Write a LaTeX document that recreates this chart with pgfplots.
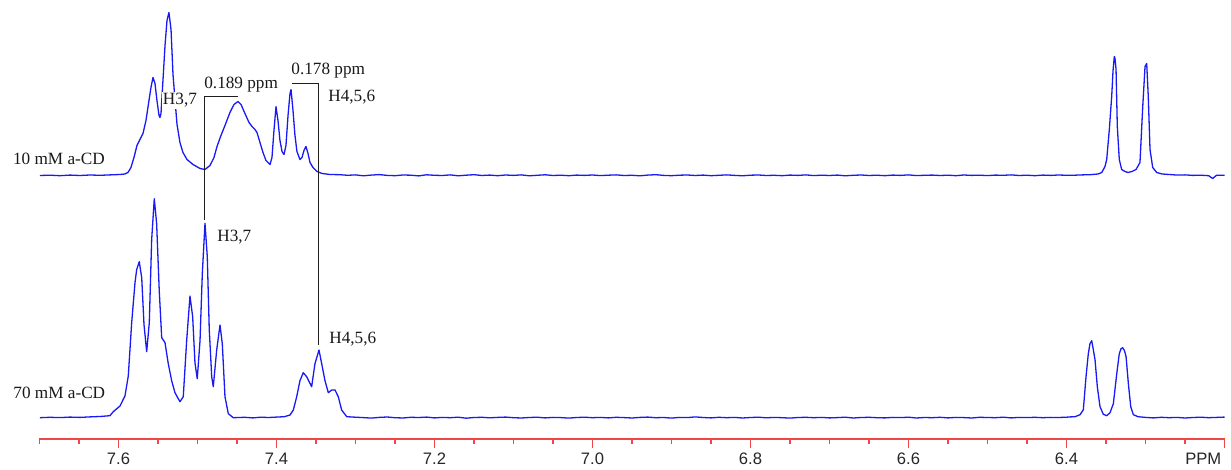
\documentclass[border=0pt]{standalone}
\usepackage{fontspec}
\setmainfont{Liberation Serif}
\setsansfont{Liberation Sans}
\usepackage{pgfplots}
\pgfplotsset{compat=1.18}
\usepackage{pgfplotstable}

\definecolor{specblue}{RGB}{25,25,245}
\definecolor{axred}{RGB}{240,70,70}
\definecolor{annot}{RGB}{30,30,30}

% 1H NMR, 10 mM a-CD (intensity above its own baseline)
\pgfplotstableread{
ppm I
7.6994 0
7.6867 0.3
7.6741 -0.2
7.6614 0.4
7.6487 0
7.6361 0.5
7.6234 0.2
7.6108 0.6
7.5981 1
7.5918 1.5
7.5880 3
7.5842 8
7.5804 18
7.5766 30
7.5728 36
7.5690 42
7.5652 55
7.5614 75
7.5589 88
7.5563 98
7.5538 92
7.5513 75
7.5487 60
7.5475 58
7.5462 62
7.5437 95
7.5411 130
7.5386 155
7.5361 163
7.5335 146
7.5310 101
7.5285 76
7.5259 51
7.5222 33
7.5184 23
7.5133 16
7.5057 11
7.4968 7
7.4905 6
7.4842 10
7.4791 18
7.4753 29
7.4703 40
7.4652 50
7.4589 63
7.4538 71
7.4487 74
7.4449 71
7.4399 62
7.4348 53
7.4310 49
7.4272 46
7.4247 43
7.4209 33
7.4171 23
7.4133 15
7.4082 11
7.4057 18
7.4032 45
7.4006 69
7.3981 55
7.3956 35
7.3930 24
7.3905 21
7.3880 30
7.3854 60
7.3829 82
7.3816 86
7.3791 65
7.3766 40
7.3741 24
7.3703 16
7.3677 18
7.3652 25
7.3627 29
7.3601 22
7.3576 13
7.3538 8
7.3487 4
7.3424 2
7.3323 1
7.32 0.8
7.31 0.2
7.30 0.6
7.29 -0.3
7.28 0.4
7.27 0.9
7.26 0.1
7.25 -0.2
7.24 0.5
7.23 0.3
7.22 -0.4
7.21 0.7
7.20 0.2
7.19 0
7.18 0.6
7.17 -0.3
7.16 0.3
7.15 0.8
7.14 0
7.13 0.4
7.12 -0.2
7.11 0.5
7.10 0.1
7.09 0.6
7.08 -0.3
7.07 0.2
7.06 0.7
7.05 0
7.04 0.3
7.03 -0.2
7.02 0.4
7.01 0.1
7.00 0.5
6.99 -0.1
6.98 0.3
6.97 0.6
6.96 0
6.95 0.2
6.94 -0.3
6.93 0.4
6.92 0.8
6.91 0.1
6.90 -0.2
6.89 0.3
6.88 0.5
6.87 0
6.86 0.4
6.85 -0.2
6.84 0.2
6.83 0.6
6.82 0.1
6.81 -0.3
6.80 0.3
6.79 0.5
6.78 0
6.77 0.2
6.76 -0.2
6.75 0.4
6.74 0.1
6.73 0.6
6.72 -0.1
6.71 0.3
6.70 0
6.69 0.4
6.68 -0.3
6.67 0.2
6.66 0.5
6.65 0
6.64 0.3
6.63 -0.2
6.62 0.4
6.61 0.1
6.60 0.6
6.59 -0.1
6.58 0.2
6.57 0.4
6.56 0
6.55 0.3
6.54 -0.2
6.53 0.5
6.52 0.1
6.51 0.3
6.50 -0.1
6.49 0.4
6.48 0.2
6.47 0.6
6.46 0
6.45 0.3
6.44 -0.2
6.43 0.4
6.42 0.1
6.41 0.5
6.40 0.2
6.39 0.3
6.38 0.6
6.37 0.8
6.36 1.5
6.3554 3
6.3513 9
6.3491 16
6.3458 46
6.3428 79
6.3411 105
6.3395 119
6.3386 117
6.3373 106
6.3357 49
6.3332 16
6.3302 6
6.3260 4
6.3222 3
6.3171 4
6.3120 6
6.3070 13
6.3035 69
6.3006 109
6.2985 112
6.2965 79
6.2943 26
6.2909 8
6.2858 3
6.2791 1.5
6.27 1
6.26 0.4
6.25 0.6
6.24 0.1
6.23 0.3
6.22 -0.2
6.215 -3
6.21 0.3
6.20 0.2
}\tenmM

% 1H NMR, 70 mM a-CD
\pgfplotstableread{
ppm I
7.6994 0
7.6867 0.4
7.6741 0.1
7.6614 0.6
7.6487 0.3
7.6361 0.8
7.6234 1.2
7.6108 2
7.6066 6
7.5981 11.7
7.5918 21.7
7.5876 41.7
7.5833 95
7.5791 135
7.5770 148
7.5737 156
7.5706 140
7.5677 93
7.5643 66
7.5610 95
7.5580 178
7.5547 219
7.5517 194
7.5484 127
7.5453 80
7.5411 75
7.5370 54
7.5327 37
7.5285 25
7.5222 16
7.5180 21
7.5137 77
7.5095 121.7
7.5061 101
7.5032 55
7.5003 39
7.4968 77
7.4939 144
7.4905 194.4
7.4876 161
7.4851 88
7.4820 41
7.4800 31
7.4757 67.7
7.4715 92.7
7.4686 74
7.4652 21
7.4610 4
7.4547 0
7.44 0.4
7.43 -0.2
7.42 0.5
7.41 0.2
7.40 0.6
7.39 1
7.3829 2.7
7.3787 7.7
7.3744 21
7.3703 37
7.3661 45
7.3618 41
7.3555 31
7.3513 54
7.3462 67.7
7.3428 54
7.3386 37
7.3344 25
7.3301 27.7
7.3259 27.7
7.3218 21
7.3175 7.7
7.3111 1
7.30 0.5
7.29 0.1
7.28 -0.4
7.27 0.3
7.26 0.7
7.25 0
7.24 -0.3
7.23 0.4
7.22 0.2
7.21 0.6
7.20 -0.2
7.19 0.3
7.18 0
7.17 0.5
7.16 -0.5
7.15 0.2
7.14 0.4
7.13 -0.1
7.12 0.3
7.11 0.6
7.10 0
7.09 -0.3
7.08 0.2
7.07 0.5
7.06 -0.2
7.05 0.3
7.04 0.1
7.03 -0.4
7.02 0.2
7.01 0.5
7.00 0
6.99 0.3
6.98 -0.2
6.97 0.4
6.96 0.1
6.95 -0.3
6.94 0.3
6.93 0.6
6.92 0
6.91 0.2
6.90 -0.4
6.89 0.3
6.88 0.1
6.87 0.8
6.86 0.2
6.85 -0.2
6.84 0.4
6.83 0
6.82 0.3
6.81 -0.3
6.80 0.2
6.79 0.5
6.78 -0.1
6.77 0.3
6.76 0
6.75 -0.4
6.74 0.2
6.73 0.4
6.72 0
6.71 0.3
6.70 -0.2
6.69 0.1
6.68 0.5
6.67 -0.3
6.66 0.2
6.65 0.4
6.64 0
6.63 -0.2
6.62 0.3
6.61 0.1
6.60 0.5
6.59 -0.3
6.58 0.2
6.57 0
6.56 0.4
6.55 -0.2
6.54 0.3
6.53 0.1
6.52 -0.3
6.51 0.4
6.50 0.2
6.49 0
6.48 0.5
6.47 -0.2
6.46 0.3
6.45 0.1
6.44 0.4
6.43 0
6.42 0.3
6.41 0.2
6.40 0.5
6.395 0.8
6.3892 1
6.3829 3
6.3787 8
6.3753 41
6.3724 64
6.3703 74
6.3681 77
6.3665 70
6.3639 58
6.3610 31
6.3576 11
6.3534 3.4
6.3491 2
6.3449 5
6.3407 14
6.3364 44
6.3332 64
6.3310 69
6.3289 70
6.3266 67
6.3246 61
6.3217 34
6.3187 11
6.3154 3
6.3095 1
6.30 0.3
6.29 -0.2
6.28 0.4
6.27 0
6.26 0.3
6.25 -0.3
6.24 0.2
6.23 0.5
6.22 0
6.21 0.3
6.20 0.6
}\seventymM

\begin{document}
\begin{tikzpicture}
\begin{axis}[
  scale only axis,
  width=592.5pt, height=219.5pt,
  x dir=reverse,
  xmin=6.2, xmax=7.7,
  ymin=0, ymax=439,
  clip=false,
  hide y axis,
  axis x line*=bottom,
  x axis line style={draw=axred, line width=0.75pt, -},
  xtick={6.2,6.4,6.6,6.8,7.0,7.2,7.4,7.6},
  xticklabels={\makebox[0pt][r]{PPM\kern1.6pt},6.4,6.6,6.8,7.0,7.2,7.4,7.6},
  minor xtick={6.25,6.3,6.35,6.45,6.5,6.55,6.65,6.7,6.75,6.85,6.9,6.95,7.05,7.1,7.15,7.25,7.3,7.35,7.45,7.5,7.55,7.65,7.7},
  tick align=outside,
  major tick length=4.5pt,
  minor tick length=2.5pt,
  every tick/.style={draw=axred, line width=0.6pt},
  /pgf/number format/assume math mode=true,
  xticklabel style={font=\sffamily\fontsize{8.3}{9}\selectfont, text=black!85, inner sep=0pt, anchor=north, yshift=-2.2pt},
]
\addplot[specblue, line width=0.65pt, line join=round, no markers]
  table[x=ppm, y expr=\thisrow{I}+263.5]{\tenmM};
\addplot[specblue, line width=0.65pt, line join=round, no markers]
  table[x=ppm, y expr=\thisrow{I}+21.3]{\seventymM};

% chemical shift brackets
\draw[annot, line width=0.5pt] (axis cs:7.4905,219) -- (axis cs:7.4905,342.3) -- (axis cs:7.4487,342.3);
\draw[annot, line width=0.5pt] (axis cs:7.3807,355.7) -- (axis cs:7.3462,355.7) -- (axis cs:7.3462,94);

\begin{scope}[every node/.style={inner sep=0pt, anchor=base west, font=\fontsize{8.6}{10}\selectfont, text=black!90}]
\node at (axis cs:7.7339,274) {10 mM a-CD};
\node at (axis cs:7.7335,40) {70 mM a-CD};
\node[fill=white, inner sep=0.6pt] at (axis cs:7.5457,334) {H3,7};
\node at (axis cs:7.3348,337) {H4,5,6};
\node at (axis cs:7.4918,350) {0.189 ppm};
\node at (axis cs:7.3816,364) {0.178 ppm};
\node at (axis cs:7.4753,197) {H3,7};
\node at (axis cs:7.3335,95) {H4,5,6};
\end{scope}

\coordinate (bbA) at (axis cs:7.75,-30);
\coordinate (bbB) at (axis cs:6.1918,439);
\end{axis}
\pgfresetboundingbox
\path[use as bounding box] (bbA) rectangle (bbB);
\end{tikzpicture}
\end{document}
